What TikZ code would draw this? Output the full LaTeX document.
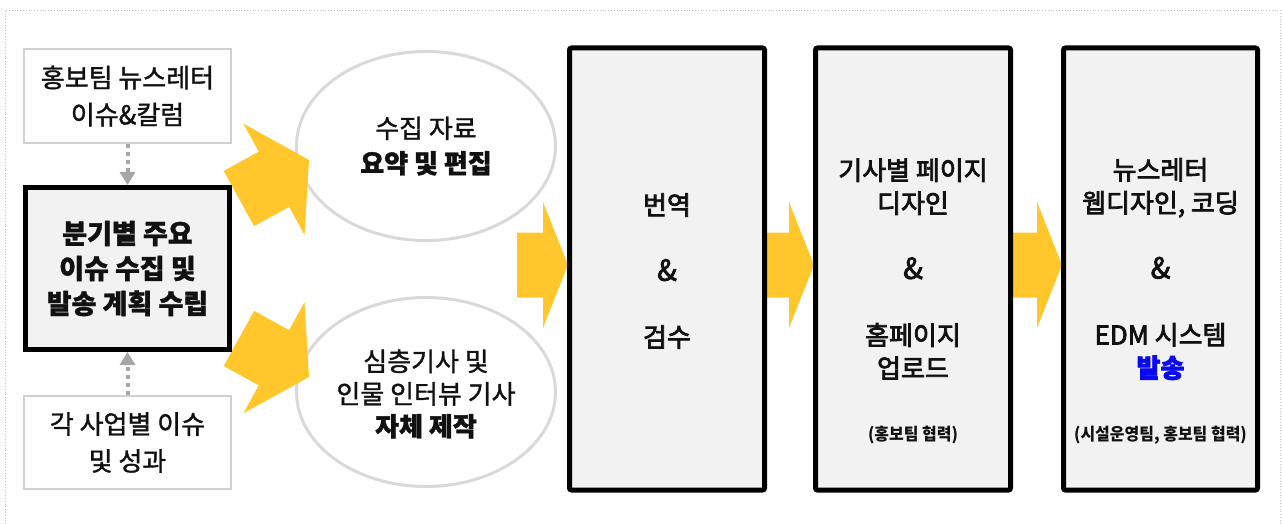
\documentclass[tikz,border=0pt]{standalone}
\usepackage{fontspec}
\setmainfont{Noto Sans CJK KR}
\usetikzlibrary{shapes.geometric,arrows.meta}
\definecolor{yarrow}{HTML}{FFC72C}
\definecolor{boxgray}{HTML}{F2F2F2}
\definecolor{linegray}{HTML}{D0D0D0}
\definecolor{ellgray}{HTML}{D9D9D9}
\definecolor{dotgray}{HTML}{A6A6A6}
\definecolor{framegray}{HTML}{C4C4C4}
\definecolor{sendblue}{HTML}{0A0AF0}
\definecolor{ink}{HTML}{111111}
\newcommand\medon{\special{pdf:literal direct 2 Tr 0.75 w}}
\newcommand\lighton{\special{pdf:literal direct 2 Tr 0.35 w}}
\newcommand\medoff{\special{pdf:literal direct 0 Tr}}
\newcommand\amp{{\fontsize{29}{33}\selectfont\&}}
\begin{document}
\begin{tikzpicture}[x=1pt,y=-1pt,
  smallbox/.style={draw=linegray, line width=2pt, fill=white, minimum width=207pt, minimum height=94pt, inner sep=0pt, align=center, text=ink, font=\fontsize{26}{37}\selectfont},
  mainbox/.style={draw=black, line width=5pt, fill=boxgray, minimum width=204pt, minimum height=162pt, inner sep=0pt, align=center, text=ink, font=\bfseries\fontsize{27}{35}\selectfont},
  bigbox/.style={draw=black, line width=5pt, fill=boxgray, rounded corners=2pt, minimum width=195pt, minimum height=442pt, inner sep=0pt},
  ellbox/.style={ellipse, draw=ellgray, line width=3pt, fill=white, minimum width=259pt, minimum height=189pt, inner sep=0pt},
  txt/.style={align=center, inner sep=0pt, text=ink, font=\fontsize{26}{33}\selectfont},
  medtxt/.style={align=center, inner sep=0pt, text=ink, font=\fontsize{26}{33}\selectfont},
  smalltxt/.style={align=center, inner sep=0pt, text=ink, font=\bfseries\fontsize{17}{18}\selectfont},
  dotc/.style={draw=dotgray, line width=4pt, dash pattern=on 4pt off 4pt, -{Triangle[width=15pt,length=13pt]}},
  yfill/.style={fill=yarrow}
]
\useasboundingbox (0,0) rectangle (1283,524);
% outer dotted frame
\draw[framegray, dotted, line width=0.8pt] (5,524) -- (5,10) -- (1280,10) -- (1280,524);

% ellipses
\node[ellbox] (e1) at (426,146) {};
\node[ellbox] (e2) at (426,392) {};
\node[txt, font=\fontsize{26}{35}\selectfont] (e1t) at (426,146) {\lighton 수집 자료\\\textbf{요약 및 편집}\medoff};
\node[txt, font=\fontsize{26}{32.5}\selectfont] (e2t) at (426,394) {\lighton 심층기사 및\\인물 인터뷰 기사\\\textbf{자체 제작}\medoff};

% tip coordinates of the block arrows
\coordinate (tipA) at (309,160);
\coordinate (tipB) at (309,377);
\coordinate (tipC) at (568,265);
\coordinate (tipD) at (814,265);
\coordinate (tipE) at (1062,265);

% angled block arrows
\fill[yfill, shift={(tipA)}, rotate=28.8] (0,0) -- (-40,63.5) -- (-40,31.5) -- (-80,31.5) -- (-80,-31.5) -- (-40,-31.5) -- (-40,-63.5) -- cycle;
\fill[yfill, shift={(tipB)}, rotate=-28.8] (0,0) -- (-40,63.5) -- (-40,31.5) -- (-80,31.5) -- (-80,-31.5) -- (-40,-31.5) -- (-40,-63.5) -- cycle;
% straight block arrows
\foreach \t in {tipC,tipD,tipE}{
  \fill[yfill, shift={(\t)}] (0,0) -- (-25,63) -- (-25,32.5) -- (-51,32.5) -- (-51,-32.5) -- (-25,-32.5) -- (-25,-63) -- cycle;
}

% left column
\node[smallbox] (top) at (127.5,96) {\lighton 홍보팀 뉴스레터\\이슈\&칼럼\medoff};
\node[smallbox, minimum height=93pt] (bot) at (127.5,442.5) {\lighton 각 사업별 이슈\\및 성과\medoff};
\node[mainbox] (main) at (127.5,268.5) {\lighton 분기별 주요\\이슈 수집 및\\발송 계획 수립\medoff};
\draw[dotc] (top.south) -- (main.north);
\draw[dotc] (bot.north) -- (main.south);

% big boxes
\node[bigbox] (b1) at (667,269) {};
\node[bigbox] (b2) at (913,269) {};
\node[bigbox, minimum width=194pt] (b3) at (1160.5,269) {};

\node[medtxt] (b1t) at (667,271) {\medon 번역\\[33pt]\amp\\[33pt]검수\medoff};
\node[medtxt] (b2t) at (913,269) {\medon 기사별 페이지\\디자인\\[33pt]\amp\\[33pt]홈페이지\\업로드\medoff};
\node[smalltxt] (b2s) at (913,435) {\scalebox{0.94}[1]{(홍보팀 협력)}};
\node[medtxt] (b3t) at (1160.5,269) {\medon 뉴스레터\\웹디자인, 코딩\\[33pt]\amp\\[33pt]EDM 시스템\\\textcolor{sendblue}{\textbf{발송}}\medoff};
\node[smalltxt] (b3s) at (1160.5,435) {\scalebox{0.94}[1]{(시설운영팀, 홍보팀 협력)}};
\end{tikzpicture}
\end{document}
